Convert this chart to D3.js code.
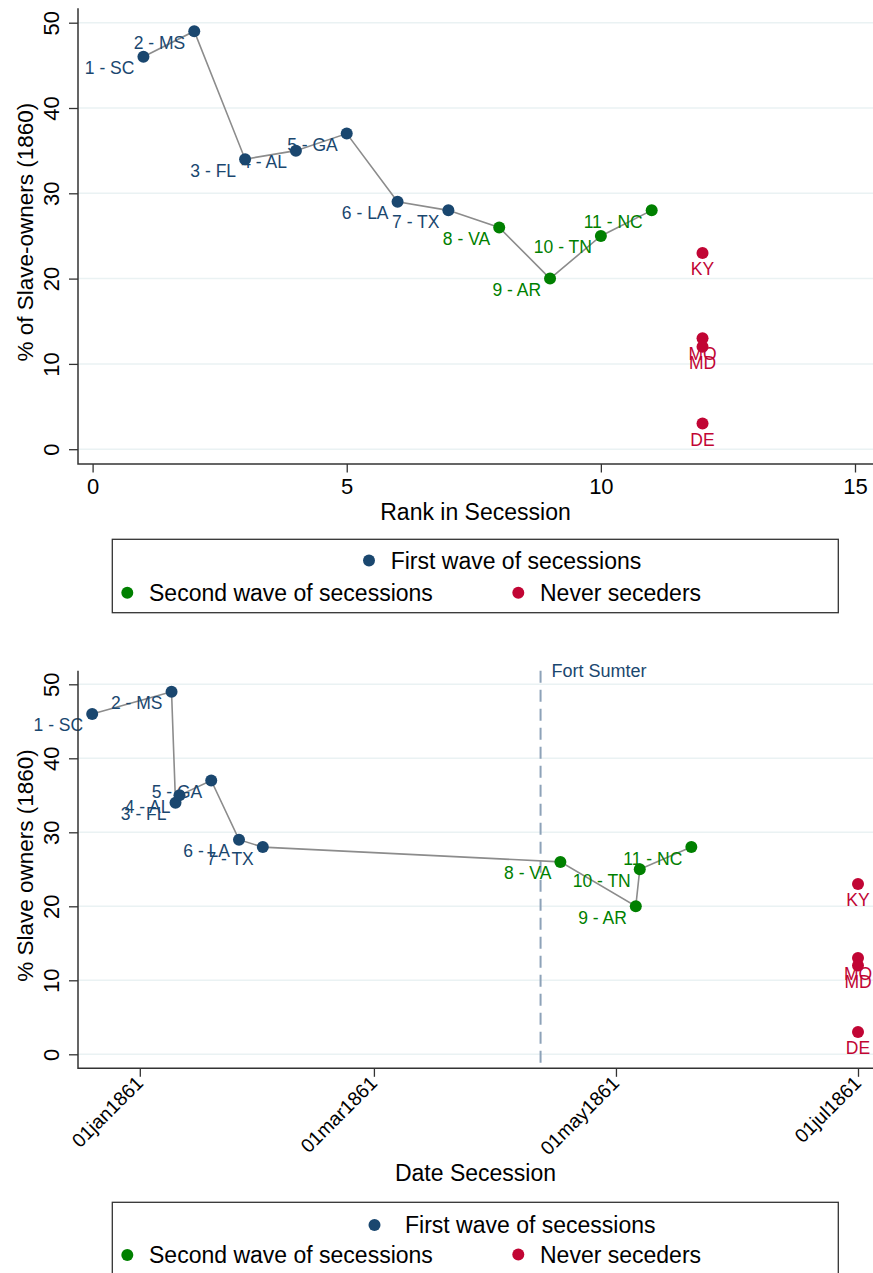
<!DOCTYPE html>
<html>
<head>
<meta charset="utf-8">
<script src="https://cdn.jsdelivr.net/npm/d3@7"></script>
<style>
  body { margin: 0; background: #fff; }
  svg text { font-family: 'Liberation Sans', Arial, sans-serif; }
</style>
</head>
<body>
<div id="chart"></div>
<script>
// data
const states = ['SC', 'MS', 'FL', 'AL', 'GA', 'LA', 'TX', 'VA', 'AR', 'TN', 'NC', 'KY', 'MO', 'MD', 'DE'];
const rank = [1, 2, 3, 4, 5, 6, 7, 8, 9, 10, 11, 12, 12, 12, 12];
const pctOwners = [46, 49, 34, 35, 37, 29, 28, 26, 20, 25, 28, 23, 13, 12, 3];
const secessionDate = ['1860-12-20', '1861-01-09', '1861-01-10', '1861-01-11', '1861-01-19', '1861-01-26', '1861-02-01',
  '1861-04-17', '1861-05-06', '1861-05-07', '1861-05-20', '1861-07-01', '1861-07-01', '1861-07-01', '1861-07-01'];
const wave = [0, 0, 0, 0, 0, 0, 0, 1, 1, 1, 1, 2, 2, 2, 2];
const waveNames = ['First wave of secessions', 'Second wave of secessions', 'Never seceders'];
const yTicks = [0, 10, 20, 30, 40, 50];
const rankTicks = [0, 5, 10, 15];
const dateTicks = ['1861-01-01', '1861-03-01', '1861-05-01', '1861-07-01'];
const fortSumter = '1861-04-12';

const colors = ['#1a476f', '#008000', '#c10534'];
const axisColor = '#333';
const W = 873, H = 1273;
const plotLeft = 78;

const svg = d3.select('#chart').append('svg')
  .attr('width', W)
  .attr('height', H);
svg.append('rect').attr('width', W).attr('height', H).attr('fill', '#fff');

const parse = d3.utcParse('%Y-%m-%d');
const fmtDate = d => d3.utcFormat('%d%b%Y')(d).toLowerCase();
const ids = d3.range(states.length);
const label = i => wave[i] < 2 ? `${rank[i]} - ${states[i]}` : states[i];

function drawPanel(p) {
  const g = svg.append('g');
  const y = d3.scaleLinear().domain([0, 50]).range([p.y0, p.y50]);
  const px = i => p.x(p.xv(i));

  // grid lines
  g.selectAll('.grid')
    .data(yTicks)
    .join('line')
    .attr('class', 'grid')
    .attr('x1', plotLeft).attr('x2', W)
    .attr('y1', d => y(d)).attr('y2', d => y(d))
    .attr('stroke', '#eaf2f3')
    .attr('stroke-width', 1.5);

  if (p.extra) p.extra(g, y);

  // connecting line through the seceders
  const seq = ids.filter(i => wave[i] < 2);
  g.append('path')
    .datum(seq)
    .attr('d', d3.line().x(px).y(i => y(pctOwners[i])))
    .attr('fill', 'none')
    .attr('stroke', '#8c8c8c')
    .attr('stroke-width', 1.6);

  g.selectAll('.dot')
    .data(ids)
    .join('circle')
    .attr('class', 'dot')
    .attr('cx', px)
    .attr('cy', i => y(pctOwners[i]))
    .attr('r', 6)
    .attr('fill', i => colors[wave[i]]);

  g.selectAll('.mlab')
    .data(ids)
    .join('text')
    .attr('class', 'mlab')
    .attr('x', i => wave[i] < 2 ? px(i) - 9 : px(i))
    .attr('y', i => y(pctOwners[i]) + (wave[i] < 2 ? 17.5 : 22))
    .attr('text-anchor', i => wave[i] < 2 ? 'end' : 'middle')
    .attr('font-size', 17.5)
    .attr('fill', i => colors[wave[i]])
    .text(label);

  // y axis
  const yAxis = g.append('g')
    .attr('transform', `translate(${plotLeft},0)`)
    .call(d3.axisLeft(y).tickValues(yTicks).tickSize(9).tickSizeOuter(0));
  yAxis.select('.domain').remove();
  yAxis.selectAll('line').attr('stroke', axisColor).attr('stroke-width', 1.3);
  yAxis.selectAll('text')
    .attr('transform', 'rotate(-90)')
    .attr('x', 0).attr('y', -19.5).attr('dy', 0)
    .attr('text-anchor', 'middle')
    .attr('font-size', 22)
    .attr('fill', '#000');

  // x axis
  const xAxis = g.append('g')
    .attr('transform', `translate(0,${p.bottom})`)
    .call(d3.axisBottom(p.x).tickValues(p.ticks).tickFormat(p.fmt).tickSize(8.5).tickSizeOuter(0));
  xAxis.select('.domain').remove();
  xAxis.selectAll('line').attr('stroke', axisColor).attr('stroke-width', 1.3);
  p.styleTicks(xAxis.selectAll('text'));

  // frame
  g.append('path')
    .attr('d', `M${plotLeft},${p.top}V${p.bottom}H${W}`)
    .attr('fill', 'none')
    .attr('stroke', axisColor)
    .attr('stroke-width', 1.5);

  // titles
  g.append('text')
    .attr('transform', `translate(33,${(p.top + p.bottom) / 2 - 4}) rotate(-90)`)
    .attr('text-anchor', 'middle')
    .attr('font-size', 22.5)
    .text(p.yTitle);
  g.append('text')
    .attr('x', (plotLeft + W) / 2)
    .attr('y', p.xTitleY)
    .attr('text-anchor', 'middle')
    .attr('font-size', 23)
    .text(p.xTitle);

  // legend
  const lg = p.legend;
  g.append('rect')
    .attr('x', 112.3).attr('y', lg.top)
    .attr('width', 726).attr('height', lg.h)
    .attr('fill', 'none')
    .attr('stroke', axisColor)
    .attr('stroke-width', 1.3);
  const items = g.selectAll('.leg')
    .data(lg.items)
    .join('g')
    .attr('class', 'leg');
  items.append('circle')
    .attr('cx', d => d.mx).attr('cy', d => d.y)
    .attr('r', 6)
    .attr('fill', (d, i) => colors[i]);
  items.append('text')
    .attr('x', d => d.tx).attr('y', d => d.y + 8)
    .attr('font-size', 23)
    .text((d, i) => waveNames[i]);
}

// top panel: rank in secession
drawPanel({
  top: 8.3, bottom: 464, y0: 449.2, y50: 22.7,
  x: d3.scaleLinear().domain([0, 15]).range([92.6, 855]),
  xv: i => rank[i],
  ticks: rankTicks,
  fmt: d3.format('d'),
  styleTicks: t => t.attr('y', 30).attr('dy', 0).attr('font-size', 22).attr('fill', '#000'),
  yTitle: '% of Slave-owners (1860)',
  xTitle: 'Rank in Secession',
  xTitleY: 520,
  legend: {
    top: 539.3, h: 73.4,
    items: [{mx: 369, tx: 390.7, y: 560.5}, {mx: 127.3, tx: 149, y: 592.7}, {mx: 518.3, tx: 540, y: 592.7}]
  }
});

// bottom panel: date of secession
const xDate = d3.scaleUtc()
  .domain([parse('1861-01-01'), parse('1861-07-01')])
  .range([139.8, 858]);
drawPanel({
  top: 670.7, bottom: 1068.3, y0: 1054.3, y50: 684.3,
  x: xDate,
  xv: i => parse(secessionDate[i]),
  ticks: dateTicks.map(parse),
  fmt: fmtDate,
  styleTicks: t => t.attr('x', 0).attr('y', 0).attr('dy', 0)
    .attr('transform', 'translate(4,16) rotate(-45)')
    .attr('text-anchor', 'end')
    .attr('font-size', 19.5)
    .attr('fill', '#000'),
  extra: (g, y) => {
    const fx = xDate(parse(fortSumter));
    g.append('line')
      .attr('x1', fx).attr('x2', fx)
      .attr('y1', 670.7).attr('y2', 1068.3)
      .attr('stroke', '#8da2b8')
      .attr('stroke-width', 2)
      .attr('stroke-dasharray', '12,7');
    g.append('text')
      .attr('x', fx + 11).attr('y', 677)
      .attr('font-size', 18)
      .attr('fill', '#1a476f')
      .text('Fort Sumter');
  },
  yTitle: '% Slave owners (1860)',
  xTitle: 'Date Secession',
  xTitleY: 1181,
  legend: {
    top: 1202.3, h: 90,
    items: [{mx: 374.5, tx: 405, y: 1225}, {mx: 127.3, tx: 149, y: 1255}, {mx: 518.3, tx: 540, y: 1254.5}]
  }
});
</script>
</body>
</html>
